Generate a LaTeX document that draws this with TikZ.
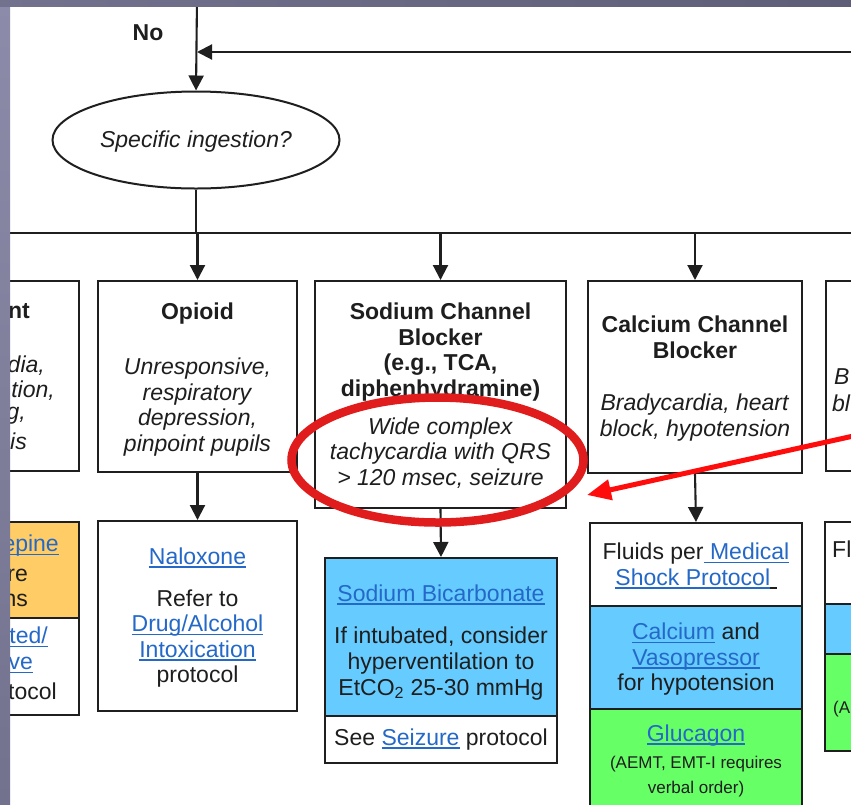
\documentclass[tikz,border=0pt]{standalone}
\usepackage{fontspec}
\setmainfont{Liberation Sans}
\usetikzlibrary{arrows.meta,shapes.geometric}

\definecolor{linkblue}{HTML}{2468C8}
\definecolor{txt}{HTML}{1E1E1E}
\definecolor{edge}{HTML}{1F1F1F}
\definecolor{orangefill}{HTML}{FFCC66}
\definecolor{bluefill}{HTML}{66CCFF}
\definecolor{greenfill}{HTML}{66FF66}
\definecolor{markred}{HTML}{E01C1C}
\definecolor{arrowred}{HTML}{FF0D0D}
\definecolor{slateA}{HTML}{8C8CAA}
\definecolor{slateB}{HTML}{72728E}
\definecolor{slateC}{HTML}{5E5E78}

% hyperlink-style text: blue with an underline rule
\newcommand\lnk[1]{\textcolor{linkblue}{\setbox0=\hbox{#1}\rlap{\rule[-3.4pt]{\wd0}{1.4pt}}\box0}}
% plain underlined text
\newcommand\ulblk[1]{\setbox0=\hbox{#1}\rlap{\rule[-3.4pt]{\wd0}{1.4pt}}\box0}
\newcommand\smalltxt{\fontsize{17}{25}\selectfont}
% invisible strut that lowers a centred text block
\newcommand\dropstrut[1]{\rule{0pt}{#1}}

\begin{document}
\begin{tikzpicture}[x=1pt,y=-1pt,
  every node/.style={text=txt, font=\fontsize{23}{25.6}\selectfont},
  box/.style={draw=edge, line width=2pt, fill=white, inner sep=0pt,
              anchor=north west, align=center},
  frag/.style={inner sep=0pt},
  wire/.style={draw=edge, line width=2.1pt},
  conn/.style={wire, -{Triangle[length=15pt,width=15pt]}},
  pointer/.style={draw=arrowred, line width=5pt, -{Triangle[length=24pt,width=20pt]}}]

\useasboundingbox (0,0) rectangle (851,804);
\clip (0,0) rectangle (851,804);
\fill[white] (0,0) rectangle (851,804);

% ---- entry and decision ----
\coordinate (topin) at (197,0);
\coordinate (loopR) at (860,52);
\node (nolabel) at (148,33) {\textbf{No}};
\node[draw=edge, line width=2pt, ellipse, minimum width=287pt, minimum height=97pt,
      inner sep=0pt] (ing) at (196,140) {\dropstrut{19pt}\textit{Specific ingestion?}};

% ---- branch bus ----
\coordinate (busW) at (-5,233);
\coordinate (busE) at (860,233);

% ---- first row: toxidromes ----
\node[box, minimum width=218pt, minimum height=190pt] (stim) at (-140,280) {};
\node[box, minimum width=199pt, minimum height=191pt] (opioid) at (97,280)
  {\dropstrut{23pt}\textbf{Opioid}\\[29pt]\textit{Unresponsive,}\\\textit{respiratory}\\\textit{depression,}\\\textit{pinpoint pupils}};
\node[box, minimum width=251pt, minimum height=227pt] (sodium) at (314,280)
  {\dropstrut{19pt}\textbf{Sodium Channel}\\\textbf{Blocker}\\\textbf{(e.g., TCA,}\\\textbf{diphenhydramine)}\\[12pt]\textit{Wide complex}\\\textit{tachycardia with QRS}\\\textit{> 120 msec, seizure}};
\node[box, minimum width=214pt, minimum height=192pt] (calcium) at (587,280)
  {\dropstrut{20pt}\textbf{Calcium Channel}\\\textbf{Blocker}\\[27pt]\textit{Bradycardia, heart}\\\textit{block, hypotension}};
\node[box, minimum width=200pt, minimum height=190pt] (beta) at (825,280) {};

% fragments of the boxes cut by the frame
\node[frag, anchor=east] (stimA) at (30,311) {\textbf{nt}};
\node[frag, anchor=east] (stimB) at (45,366) {\textit{dia,}};
\node[frag, anchor=east] (stimC) at (55,391) {\textit{tion,}};
\node[frag, anchor=east] (stimD) at (26,416) {\textit{g,}};
\node[frag, anchor=east] (stimE) at (27,441) {\textit{is}};
\node[frag, anchor=west] (betaA) at (834,377) {\textit{B}};
\node[frag, anchor=west] (betaB) at (832,403) {\textit{bl}};

% ---- second row: treatments ----
\node[box, fill=orangefill, minimum width=218pt, minimum height=96pt] (benzo) at (-140,521) {};
\node[box, minimum width=218pt, minimum height=97pt] (sedate) at (-140,617) {};
\node[frag, anchor=east] (benzoA) at (59,546) {\lnk{epine}};
\node[frag, anchor=east] (benzoB) at (28,575) {re};
\node[frag, anchor=east] (benzoC) at (28,600) {ns};
\node[frag, anchor=east] (sedateA) at (48,637) {\lnk{ted/}};
\node[frag, anchor=east] (sedateB) at (33,665) {\lnk{ve}};
\node[frag, anchor=east] (sedateC) at (57,691) {tocol};

\node[box, minimum width=199pt, minimum height=190pt] (nalox) at (97,520)
  {\dropstrut{20pt}\lnk{Naloxone}\\[16pt]Refer to\\\lnk{Drug/Alcohol}\\\lnk{Intoxication}\\protocol};

\node[box, fill=bluefill, minimum width=232pt, minimum height=158pt] (bicarb) at (324,557)
  {\dropstrut{27pt}\lnk{Sodium Bicarbonate}\\[17pt]If intubated, consider\\hyperventilation to\\EtCO\textsubscript{2} 25-30 mmHg};
\node[box, minimum width=232pt, minimum height=47pt] (seizure) at (324,715)
  {See \lnk{Seizure} protocol};

\node[box, minimum width=212pt, minimum height=83pt] (fluids) at (589,522)
  {\dropstrut{19pt}Fluids per\lnk{\ Medical}\\\lnk{Shock Protocol}\ulblk{\ }};
\node[box, fill=bluefill, minimum width=212pt, minimum height=103pt] (capress) at (589,605)
  {\dropstrut{20pt}\lnk{Calcium} and\\\lnk{Vasopressor}\\for hypotension};
\node[box, fill=greenfill, minimum width=212pt, minimum height=104pt] (gluc) at (589,708)
  {\lnk{Glucagon}\\[1pt]{\smalltxt (AEMT, EMT-I requires}\\{\smalltxt verbal order)}};

\node[box, minimum width=200pt, minimum height=82pt] (betaFl) at (824,521) {};
\node[box, fill=bluefill, minimum width=200pt, minimum height=50pt] (betaCa) at (824,603) {};
\node[box, fill=greenfill, minimum width=200pt, minimum height=97pt] (betaGl) at (824,653) {};
\node[frag, anchor=west] (betaFlA) at (832,549) {Fl};
\node[frag, anchor=west] (betaGlA) at (833,709) {\smalltxt (A};

% ---- connectors ----
\draw[conn] (topin) -- (ing.north);
\draw[conn] (loopR) -- (topin |- loopR);
\draw[wire] (ing.south) -- (ing.south |- busW);
\draw[wire, line width=2.5pt] (busW) -- (busE);
\draw[conn] (opioid.north |- busW) -- (opioid.north);
\draw[conn] (sodium.north |- busW) -- (sodium.north);
\draw[conn] (calcium.north |- busW) -- (calcium.north);
\draw[conn] (opioid.south) -- (nalox.north);
\draw[conn] (sodium.south) -- (bicarb.north);
\draw[conn] (calcium.south) -- (fluids.north);

% ---- red highlight ----
\node[draw=markred, line width=8.5pt, ellipse, minimum width=292pt, minimum height=125pt,
      inner sep=0pt] (mark) at (437.5,460) {};
\coordinate (ptrTail) at (858,435);
\coordinate (ptrTip) at (587,495);
\draw[pointer] (ptrTail) -- (ptrTip);

% ---- slide frame ----
\shade[top color=slateA, bottom color=slateB] (0,0) rectangle (10,804);
\shade[left color=slateB, right color=slateC] (0,0) rectangle (851,6);
\end{tikzpicture}
\end{document}
